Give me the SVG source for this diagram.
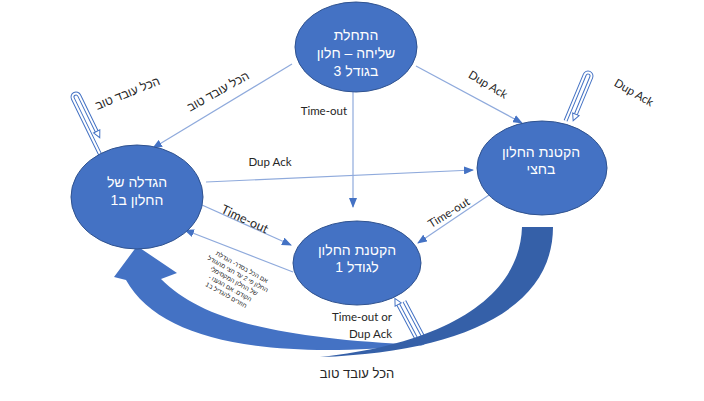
<svg xmlns="http://www.w3.org/2000/svg" width="704" height="401" viewBox="0 0 704 401">
<style>
.node{fill:#4472C4;stroke:#2F528F;stroke-width:1}
.nt{fill:#FFFFFF;font-family:"Liberation Sans","DejaVu Sans",sans-serif;font-size:14px;text-anchor:middle;direction:rtl;unicode-bidi:embed}
.conn{stroke:#8FAADC;stroke-width:1.2;fill:none}
.lbl{fill:#262626;font-family:"Lato","Liberation Sans",sans-serif;font-size:11.5px;text-anchor:middle}
.heb{fill:#262626;font-family:"Liberation Sans","DejaVu Sans",sans-serif;font-size:12px;text-anchor:middle;direction:rtl;unicode-bidi:embed}
.tiny{fill:#262626;font-family:"Liberation Sans","DejaVu Sans",sans-serif;font-size:6.3px;text-anchor:middle;direction:rtl;unicode-bidi:embed}
.hp1{stroke:#4472C4;stroke-width:4;fill:none}
.hp2{stroke:#FFFFFF;stroke-width:2;fill:none}
.hpa{fill:#FFFFFF;stroke:#4472C4;stroke-width:1}
</style>
<defs>
<marker id="ah" markerWidth="10" markerHeight="8" refX="9" refY="4" orient="auto" markerUnits="userSpaceOnUse">
<path d="M0,0 L10,4 L0,8 Z" fill="#4472C4"/>
</marker>
</defs>
<rect width="704" height="401" fill="#FFFFFF"/>

<g id="connectors">
<line class="conn" x1="292" y1="64" x2="153" y2="148" marker-end="url(#ah)"/>
<line class="conn" x1="353" y1="92" x2="353" y2="207" marker-end="url(#ah)"/>
<line class="conn" x1="416" y1="66" x2="522" y2="123" marker-end="url(#ah)"/>
<line class="conn" x1="206" y1="182" x2="473" y2="170" marker-end="url(#ah)"/>
<line class="conn" x1="492" y1="193" x2="418" y2="243" marker-end="url(#ah)"/>
<line class="conn" x1="202" y1="205" x2="291" y2="245" marker-end="url(#ah)"/>
<line class="conn" x1="293" y1="272" x2="185" y2="230" marker-end="url(#ah)"/>

<!-- self loop hairpins -->
<g transform="translate(76,97) rotate(-26)">
<path class="hp1" d="M-3.5,62 L-3.5,0 A3.5,3.5 0 0 1 3.5,0 L3.5,40"/>
<path class="hp2" d="M-3.5,62 L-3.5,0 A3.5,3.5 0 0 1 3.5,0 L3.5,40"/>
<polygon class="hpa" points="0,40 7,40 3.5,47"/>
</g>
<g transform="translate(588,76) rotate(22.6)">
<path class="hp1" d="M-3.5,50 L-3.5,0 A3.5,3.5 0 0 1 3.5,0 L3.5,40"/>
<path class="hp2" d="M-3.5,50 L-3.5,0 A3.5,3.5 0 0 1 3.5,0 L3.5,40"/>
<polygon class="hpa" points="0,40 7,40 3.5,47"/>
</g>
<g transform="translate(421,340) rotate(152)">
<path class="hp1" d="M-3.5,42 L-3.5,0 A3.5,3.5 0 0 1 3.5,0 L3.5,42"/>
<path class="hp2" d="M-3.5,42 L-3.5,0 A3.5,3.5 0 0 1 3.5,0 L3.5,42"/>
<polygon class="hpa" points="0,42 7,42 3.5,49"/>
</g>

<!-- big curved arrow -->
<path d="M137,246 L177,273 L161,279 C200,318 270,338 420,345 C270,360 160,342 126,280 L114,277 Z" fill="#4472C4"/>
<path d="M522,227 L553,227 C553,310 460,352 320,357 C450,343 520,295 522,227 Z" fill="#3560A8"/>
</g>

<g id="n-start">
<ellipse class="node" cx="356" cy="47" rx="61" ry="45"/>
<text class="nt" x="356" y="40">התחלת</text>
<text class="nt" x="356" y="58">שליחה – חלון</text>
<text class="nt" x="356" y="76">בגודל 3</text>
</g>
<g id="n-grow">
<ellipse class="node" cx="137" cy="197" rx="66" ry="52"/>
<text class="nt" x="137" y="187">הגדלה של</text>
<text class="nt" x="137" y="205">החלון ב1</text>
</g>
<g id="n-half">
<ellipse class="node" cx="542" cy="168" rx="65" ry="47"/>
<text class="nt" x="541" y="157">הקטנת החלון</text>
<text class="nt" x="541" y="174">בחצי</text>
</g>
<g id="n-one">
<ellipse class="node" cx="357" cy="263" rx="64" ry="42"/>
<text class="nt" x="357" y="255">הקטנת החלון</text>
<text class="nt" x="357" y="272">לגודל 1</text>
</g>

<g id="labels">
<text class="heb" transform="translate(220,95) rotate(-29)">הכל עובד טוב</text>
<text class="heb" transform="translate(129,97) rotate(-22)">הכל עובד טוב</text>
<text class="lbl" x="347" y="115" style="text-anchor:end">Time-out</text>
<text class="lbl" transform="translate(486,88) rotate(31)">Dup Ack</text>
<text class="lbl" transform="translate(632,96) rotate(30)">Dup Ack</text>
<text class="lbl" x="270" y="166">Dup Ack</text>
<text class="lbl" transform="translate(243,223) rotate(25)" style="font-size:12.5px">Time-out</text>
<text class="lbl" transform="translate(451,216) rotate(-32)">Time-out</text>
<text class="lbl" x="392" y="321" style="text-anchor:end">Time-out or</text>
<text class="lbl" x="392" y="338" style="text-anchor:end">Dup Ack</text>
<text class="heb" x="357" y="378" style="font-size:13px">הכל עובד טוב</text>
<g transform="translate(233,283) rotate(29)">
<text class="tiny" x="0" y="-16">אם הכל בסדר- הגדלת</text>
<text class="tiny" x="0" y="-8">החלון פי 2 עד חצי מהגודל</text>
<text class="tiny" x="0" y="0">של החלון המקסימלי</text>
<text class="tiny" x="0" y="8">הקודם. אם הגענו -</text>
<text class="tiny" x="0" y="16">חוזרים להגדיל ב1</text>
</g>
</g>
</svg>
